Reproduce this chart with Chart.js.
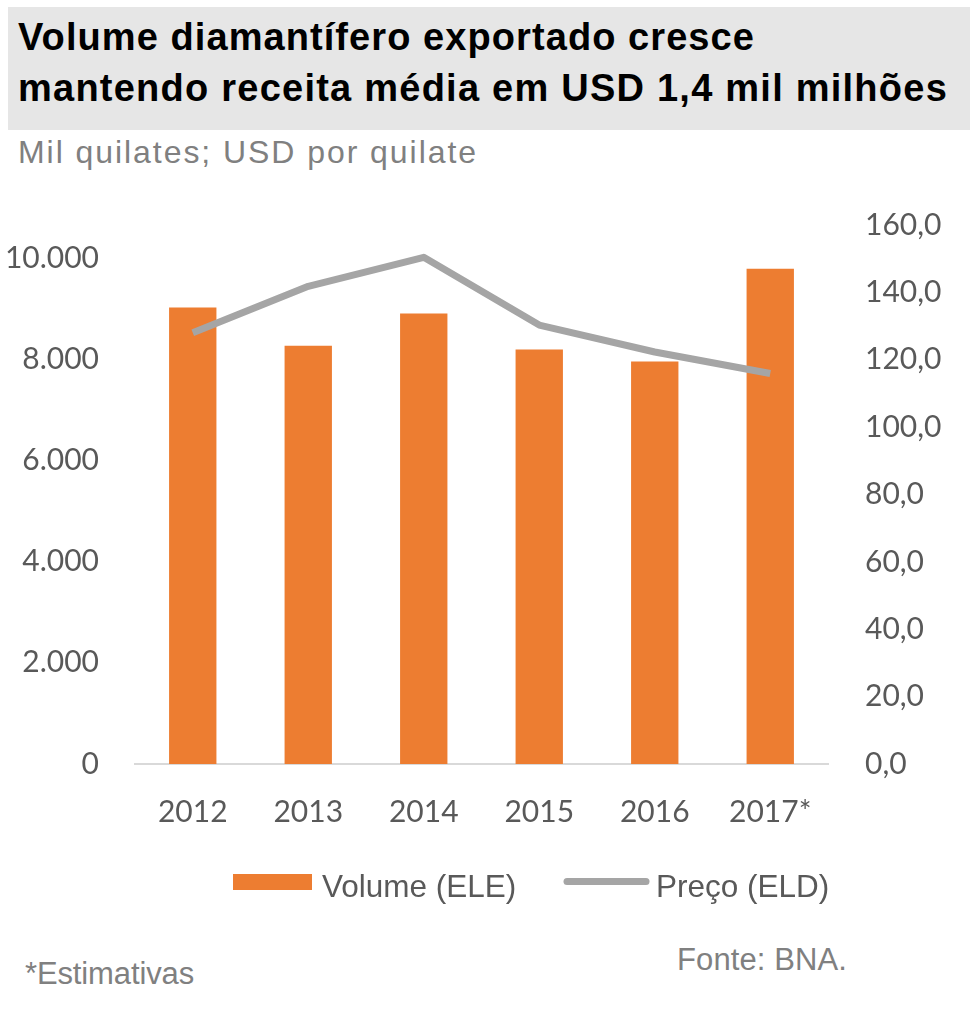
<!DOCTYPE html>
<html>
<head>
<meta charset="utf-8">
<script src="https://cdn.jsdelivr.net/npm/chart.js@4.4.1/dist/chart.umd.min.js"></script>
<style>
  html, body { margin: 0; padding: 0; background: #ffffff; width: 980px; height: 1024px; overflow: hidden; }
  .t { position: absolute; white-space: nowrap; font-family: "Liberation Sans", Arial, sans-serif; line-height: 1; }
  #titlebox { position: absolute; left: 8px; top: 7px; width: 962px; height: 123px; background: #e6e6e6; }
  #chartwrap { position: absolute; left: 0; top: 190px; width: 980px; height: 730px; }
</style>
</head>
<body>
<div id="titlebox"></div>
<div class="t fit" data-w="737" style="left:18px; top:18px; font-size:38px; font-weight:bold; color:#000;">Volume diamantífero exportado cresce</div>
<div class="t fit" data-w="930" style="left:18px; top:69px; font-size:38px; font-weight:bold; color:#000;">mantendo receita média em USD 1,4 mil milhões</div>
<div class="t fit" data-w="460" style="left:18px; top:136px; font-size:32px; color:#808080;">Mil quilates; USD por quilate</div>
<div class="t fit" data-w="169" style="left:25px; top:958px; font-size:31px; color:#808080;">*Estimativas</div>
<div class="t fit" data-w="170" style="left:677px; top:944px; font-size:31px; color:#808080;">Fonte: BNA.</div>
<div id="chartwrap"><canvas id="c" width="980" height="730"></canvas></div>
<script>
// ---- data ----
const categories = ["2012", "2013", "2014", "2015", "2016", "2017*"];
const volumeValues = [9020, 8265, 8900, 8190, 7955, 9785];   // Mil quilates (left axis)
const priceValues = [128.0, 141.8, 150.4, 130.3, 122.3, 115.9]; // USD por quilate (right axis)
const seriesLabels = ["Volume (ELE)", "Preço (ELD)"];
const leftTicks = [0, 2000, 4000, 6000, 8000, 10000];
const rightTicks = [0, 20, 40, 60, 80, 100, 120, 140, 160];

// fit text widths
document.querySelectorAll('.fit').forEach(el => {
  const target = parseFloat(el.dataset.w);
  const w = el.getBoundingClientRect().width;
  const n = el.textContent.length;
  el.style.letterSpacing = ((target - w) / n) + 'px';
});

const fmtLeft = v => String(v).replace(/\B(?=(\d{3})+(?!\d))/g, '.');
const fmtRight = v => v.toFixed(1).replace('.', ',');

const tickFont = { family: "Lato, 'Open Sans', sans-serif", size: 30 };
const tickColor = '#595959';

const legendPlugin = {
  id: 'customLegend',
  afterDraw(chart) {
    const ctx = chart.ctx;
    const ds = chart.data.datasets;
    ctx.save();
    // bar item
    ctx.fillStyle = ds[0].backgroundColor;
    ctx.fillRect(233, 684, 79, 16);
    // line item
    ctx.strokeStyle = ds[1].borderColor;
    ctx.lineWidth = 7;
    ctx.lineCap = 'round';
    ctx.beginPath();
    ctx.moveTo(567, 691.5);
    ctx.lineTo(646, 691.5);
    ctx.stroke();
    ctx.font = "31.5px 'Liberation Sans', Arial, sans-serif";
    ctx.fillStyle = '#595959';
    ctx.textBaseline = 'alphabetic';
    ctx.fillText(ds[0].label, 322, 707);
    ctx.fillText(ds[1].label, 656, 707);
    ctx.restore();
  }
};

new Chart(document.getElementById('c'), {
  data: {
    labels: categories,
    datasets: [
      {
        type: 'bar',
        label: seriesLabels[0],
        data: volumeValues,
        backgroundColor: '#ED7D31',
        yAxisID: 'yL',
        order: 2,
        barPercentage: 0.41,
        categoryPercentage: 1.0
      },
      {
        type: 'line',
        label: seriesLabels[1],
        data: priceValues,
        borderColor: '#A5A5A5',
        backgroundColor: '#A5A5A5',
        borderWidth: 7,
        pointRadius: 0,
        tension: 0,
        borderJoinStyle: 'round',
        borderCapStyle: 'butt',
        yAxisID: 'yR',
        order: 1
      }
    ]
  },
  options: {
    responsive: false,
    animation: false,
    layout: { padding: { top: 35, bottom: 76, left: 0, right: 0 } },
    plugins: { legend: { display: false }, tooltip: { enabled: false } },
    scales: {
      x: {
        grid: { display: false, drawTicks: false },
        border: { display: true, color: '#d9d9d9', width: 2 },
        ticks: { font: tickFont, color: tickColor, padding: 30, maxRotation: 0 },
        afterFit(s) { s.height = 80; }
      },
      yL: {
        position: 'left',
        min: 0,
        max: 10650,
        grid: { display: false, drawTicks: false },
        border: { display: false },
        ticks: { font: tickFont, color: tickColor, padding: 36, callback: v => fmtLeft(v) },
        afterBuildTicks(s) { s.ticks = leftTicks.map(v => ({ value: v })); },
        afterFit(s) { s.width = 135; s.paddingTop = 0; s.paddingBottom = 0; }
      },
      yR: {
        position: 'right',
        min: 0,
        max: 160,
        grid: { display: false, drawTicks: false },
        border: { display: false },
        ticks: { font: tickFont, color: tickColor, padding: 37, callback: v => fmtRight(v) },
        afterBuildTicks(s) { s.ticks = rightTicks.map(v => ({ value: v })); },
        afterFit(s) { s.width = 152; s.paddingTop = 0; s.paddingBottom = 0; }
      }
    }
  },
  plugins: [legendPlugin]
});
</script>
</body>
</html>
